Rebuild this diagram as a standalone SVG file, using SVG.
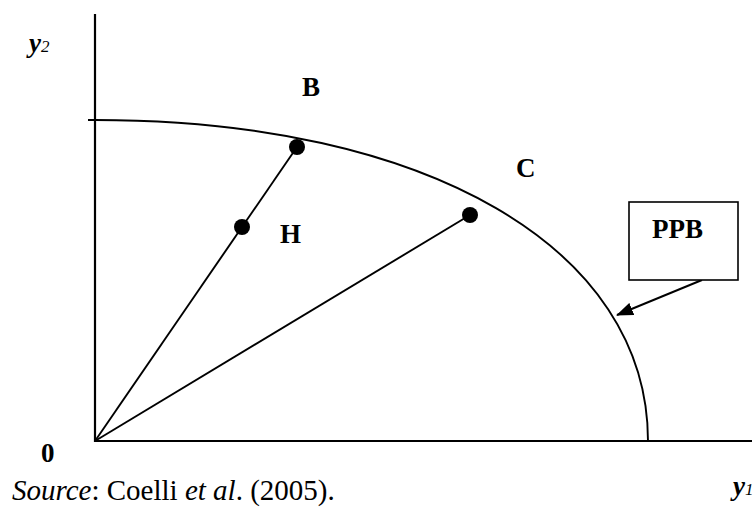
<svg xmlns="http://www.w3.org/2000/svg" width="755" height="513" viewBox="0 0 755 513">
<style>
.ax{stroke:#000;stroke-width:2.2;fill:none}
.ln{stroke:#000;stroke-width:1.9;fill:none}
.lbl{font-weight:bold;font-size:27px}
.var{font-weight:bold;font-style:italic;font-size:27px}
.src{font-size:29px}
.dot{fill:#000}
</style>
<defs>
<marker id="ah" markerWidth="17" markerHeight="13" refX="16" refY="6.5" orient="auto" markerUnits="userSpaceOnUse">
<path d="M0,0 L17,6.5 L0,13 z" fill="#000"/>
</marker>
</defs>
<g id="axes">
<line class="ax" x1="95" y1="14" x2="95" y2="442"/>
<line class="ax" x1="94" y1="441" x2="752" y2="441"/>
</g>
<g id="frontier">
<path class="ln" d="M88 120 L95 120 C427 120 648 248 648 441"/>
</g>
<g id="connectors">
<line class="ln" x1="95" y1="441" x2="297" y2="147"/>
<line class="ln" x1="95" y1="441" x2="470" y2="215"/>
<line class="ln" x1="702" y1="280" x2="617" y2="315" marker-end="url(#ah)"/>
</g>
<g font-family="Liberation Serif, Times New Roman, serif" fill="#000">
<g id="B"><circle class="dot" cx="297" cy="147" r="8"/><text class="lbl" x="302" y="96">B</text></g>
<g id="H"><circle class="dot" cx="242" cy="227" r="8"/><text class="lbl" x="280" y="243">H</text></g>
<g id="C"><circle class="dot" cx="470" cy="215" r="8"/><text class="lbl" x="516" y="177">C</text></g>
<g id="PPB"><rect x="629" y="202" width="109" height="78" fill="#fff" stroke="#000" stroke-width="1.6"/><text class="lbl" x="652" y="238">PPB</text></g>
<g id="labels">
<text class="var" x="29" y="52">y<tspan font-size="17" font-weight="normal">2</tspan></text>
<text class="var" x="733" y="495">y<tspan font-size="17" font-weight="normal">1</tspan></text>
<text class="lbl" x="41" y="462">0</text>
<text class="src" x="12" y="500"><tspan font-style="italic">Source</tspan>: Coelli <tspan font-style="italic">et al</tspan>. (2005).</text>
</g>
</g>
</svg>
